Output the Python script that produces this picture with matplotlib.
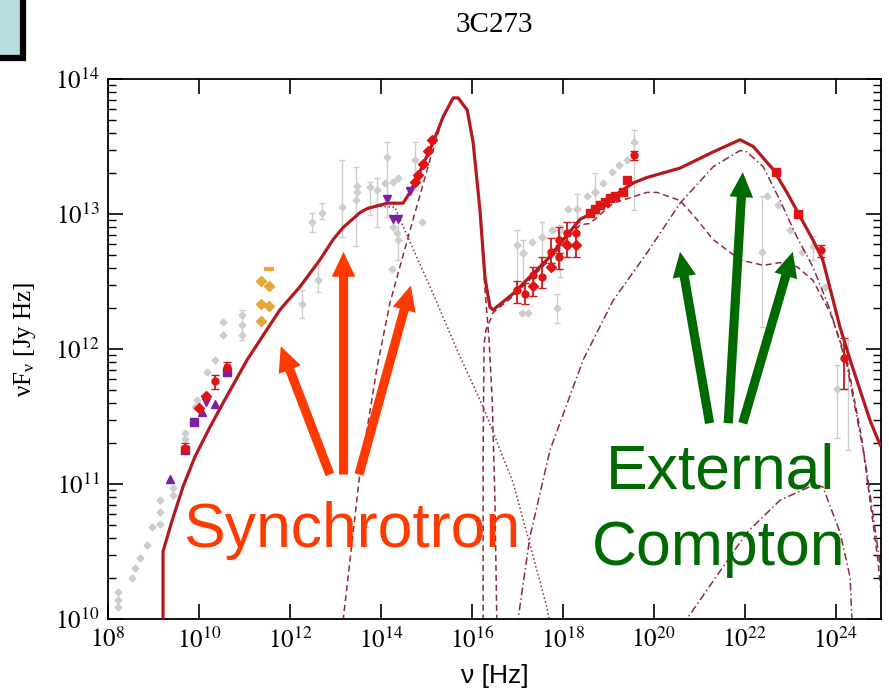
import numpy as np
import matplotlib
matplotlib.use("Agg")
import matplotlib.pyplot as plt
from matplotlib.patches import Rectangle
from matplotlib.ticker import LogLocator, FuncFormatter, NullFormatter

plt.rcParams['font.family'] = 'serif'
plt.rcParams['font.serif'] = ['Liberation Serif', 'DejaVu Serif']
plt.rcParams['mathtext.fontset'] = 'stix'

# ---- model curves (log10 nu, log10 nuFnu) ----
total_lognu = [9.21, 9.21, 9.41, 9.65, 9.91, 10.24, 10.53, 11.06, 11.78, 12.22, 12.66, 12.95,
               13.17, 13.54, 13.70, 14.14, 14.49, 14.64, 14.80, 15.15, 15.37, 15.59, 15.70,
               15.90, 16.03, 16.18, 16.29, 16.40, 16.47, 16.91, 17.65, 18.38, 18.67, 19.11,
               19.55, 19.85, 20.58, 21.31, 21.90, 22.19, 22.63, 22.93, 23.50, 23.72, 24.10,
               24.32, 24.76, 24.98]
total_logf = [9.5, 10.50, 10.73, 10.98, 11.20, 11.42, 11.60, 11.92, 12.29, 12.46, 12.66, 12.81,
              12.90, 13.01, 13.04, 13.08, 13.08, 13.16, 13.27, 13.53, 13.72, 13.86, 13.86,
              13.77, 13.53, 13.03, 12.53, 12.31, 12.29, 12.41, 12.66, 12.96, 13.01, 13.13,
              13.23, 13.27, 13.34, 13.46, 13.55, 13.50, 13.33, 13.16, 12.81, 12.66, 12.16,
              11.92, 11.47, 11.29]

sync_lognu = [13.90, 14.31, 14.42, 15.15, 15.68, 16.25, 16.91, 17.65, 17.75]
sync_logf = [13.06, 13.05, 12.96, 12.41, 11.99, 11.57, 11.01, 10.09, 9.9]

disk_lognu = [13.12, 13.54, 13.92, 13.98, 14.20, 14.42, 14.71, 15.08, 15.37, 15.59, 15.70,
              15.90, 16.03, 16.18, 16.29, 16.38, 16.45, 16.51, 16.55, 16.58]
disk_logf = [9.84, 11.08, 11.87, 11.97, 12.34, 12.61, 12.96, 13.40, 13.72, 13.86, 13.86,
             13.77, 13.53, 13.03, 12.44, 12.07, 11.62, 10.88, 10.0, 9.84]

ssc_lognu = [16.25, 16.25, 16.27, 16.31, 16.40, 16.47, 16.91, 17.65, 18.38, 18.60, 19.11,
             19.85, 20.07, 20.58, 20.95, 21.31, 21.90, 22.41, 22.78, 23.15, 23.50, 23.88,
             24.25, 24.58, 24.93, 25.0]
ssc_logf = [9.84, 11.25, 12.03, 12.14, 12.21, 12.27, 12.39, 12.64, 12.92, 12.93, 13.08,
            13.16, 13.16, 13.10, 12.96, 12.81, 12.66, 12.62, 12.64, 12.61, 12.51, 12.27,
            11.92, 11.33, 10.44, 10.21]

ec_lognu = [16.95, 17.28, 17.72, 18.45, 19.11, 19.85, 20.58, 21.31, 21.90, 22.05, 22.41,
            22.78, 23.15, 23.50, 23.88, 24.25, 24.65, 25.0]
ec_logf = [9.84, 10.61, 11.25, 11.92, 12.36, 12.71, 13.08, 13.35, 13.47, 13.46, 13.35,
           13.10, 12.83, 12.61, 12.29, 11.88, 11.18, 10.36]

ec2_lognu = [20.58, 20.73, 22.05, 22.78, 23.50, 23.72, 24.10, 24.32, 24.36, 24.38]
ec2_logf = [9.84, 10.0, 10.64, 10.88, 10.99, 10.98, 10.64, 10.31, 10.0, 9.84]

# ---- archival data (gray) ----
gray_lognu = [8.22, 8.22, 8.22, 8.53, 8.59, 8.70, 8.86, 8.97, 9.14, 9.14, 9.14, 9.43, 9.43,
              9.69, 9.69, 9.91, 9.96, 10.18, 10.35, 10.53, 10.53, 10.95, 10.95, 13.48, 13.48,
              14.09, 14.27, 14.38, 14.25, 14.91, 14.27, 14.36, 17.13, 17.32, 17.54, 17.76,
              18.12, 18.31, 18.53, 18.71, 18.89, 19.08, 19.24, 19.41, 17.10, 17.24, 22.49,
              22.73, 23.00, 23.26, 23.77]
gray_logf = [10.20, 10.14, 10.09, 10.30, 10.38, 10.45, 10.55, 10.68, 10.88, 10.79, 10.70, 10.92,
             10.97, 11.38, 11.33, 11.57, 11.62, 11.83, 11.92, 12.20, 12.10, 12.25, 12.18, 13.21,
             13.16, 13.23, 13.24, 13.27, 12.59, 12.94, 12.90, 12.86, 12.71, 12.79, 12.83, 12.88,
             13.04, 13.04, 13.13, 13.16, 13.23, 13.31, 13.36, 13.40, 12.27, 12.27, 13.13,
             13.07, 12.88, 12.72, 12.46]

grayerr_lognu = [10.95, 12.27, 12.62, 12.49, 12.71, 13.15, 13.45, 13.76, 13.92, 14.14, 14.75,
                 14.38, 17.00, 17.13, 17.54, 17.94, 18.31, 18.71, 19.57, 17.87, 22.38, 23.50,
                 24.03, 24.27]
grayerr_logf = [12.10, 12.33, 12.51, 12.94, 13.01, 13.05, 13.10, 13.20, 13.18, 13.42, 13.40,
                12.81, 12.77, 12.71, 12.83, 12.88, 13.04, 13.16, 13.53, 12.30, 12.72, 12.76,
                11.70, 11.92]
grayerr_lo = [12.07, 12.23, 12.42, 12.87, 12.96, 12.83, 12.76, 12.99, 12.90, 12.98, 13.18,
              12.66, 12.44, 12.44, 12.64, 12.53, 12.90, 13.00, 13.03, 12.19, 12.16, 12.66,
              11.34, 11.25]
grayerr_hi = [12.29, 12.44, 12.62, 13.01, 13.08, 13.40, 13.35, 13.24, 13.27, 13.53, 13.53,
              12.96, 12.88, 12.81, 12.94, 12.92, 13.15, 13.30, 13.62, 12.41, 13.13, 12.84,
              11.88, 12.07]

# ---- red data ----
rederr_lognu = [17.00, 17.17, 17.35, 17.54, 17.74, 17.92, 17.92, 18.09, 18.29, 19.57, 23.68,
                24.19, 10.35, 10.62, 9.69]
rederr_logf = [12.44, 12.41, 12.55, 12.53, 12.72, 12.81, 12.68, 12.86, 12.86, 13.44, 12.73,
               11.93, 11.76, 11.87, 11.27]
rederr_lo = [12.34, 12.33, 12.39, 12.45, 12.64, 12.71, 12.59, 12.68, 12.68, 13.40, 12.68,
             11.70, 11.70, 11.84, 11.24]
rederr_hi = [12.50, 12.49, 12.61, 12.68, 12.82, 12.90, 12.77, 12.94, 12.94, 13.47, 12.77,
             12.08, 11.81, 11.90, 11.30]

red_lognu = [17.35, 17.74, 18.09, 18.29, 14.75, 14.82, 14.93, 15.04, 15.13, 10.00, 10.16]
red_logf = [12.47, 12.61, 12.77, 12.77, 13.24, 13.29, 13.37, 13.47, 13.55, 11.56, 11.65]

redsq_lognu = [18.60, 18.71, 18.82, 18.93, 19.04, 19.15, 19.33, 19.41, 22.69, 23.17]
redsq_logf = [13.01, 13.04, 13.07, 13.09, 13.12, 13.13, 13.16, 13.25, 13.31, 13.00]

# ---- purple and orange data ----
purup_lognu = [9.36, 10.07, 10.35]
purup_logf = [11.04, 11.53, 11.59]
pursq_lognu = [9.69, 9.89, 10.62]
pursq_logf = [11.25, 11.46, 11.83]
purdn_lognu = [10.16, 14.14, 14.27, 14.38, 14.64]
purdn_logf = [11.61, 13.11, 12.96, 12.96, 13.17]

orange_lognu = [11.36, 11.54, 11.36, 11.54, 11.36]
orange_logf = [12.50, 12.47, 12.33, 12.32, 12.21]
orange_lim_lognu = [11.54]
orange_lim_logf = [12.59]

x_ticks = [8, 10, 12, 14, 16, 18, 20, 22, 24]
y_ticks = [10, 11, 12, 13, 14]


def p(v):
    return 10.0 ** np.asarray(v)


def yerr(f, lo, hi):
    f, lo, hi = p(f), p(lo), p(hi)
    return [f - lo, hi - f]


fig = plt.figure(figsize=(8.89, 6.93), dpi=100)
ax = fig.add_axes([0.1215, 0.1068, 0.8695, 0.7792])

gray = '#cdcdcd'
ax.plot(p(gray_lognu), p(gray_logf), 'D', ms=3.5, color=gray, mec=gray, zorder=1)
ax.errorbar(p(grayerr_lognu), p(grayerr_logf), yerr=yerr(grayerr_logf, grayerr_lo, grayerr_hi),
            fmt='D', ms=3.5, color=gray, ecolor=gray, elinewidth=1, capsize=2.5, zorder=1)

comp = '#8e2a40'
ax.plot(p(sync_lognu), p(sync_logf), ':', color=comp, lw=1.1, zorder=2)
ax.plot(p(disk_lognu), p(disk_logf), '--', color=comp, lw=1.1, dashes=(4, 2.5), zorder=2)
ax.plot(p(ssc_lognu), p(ssc_logf), '--', color=comp, lw=1.1, dashes=(4, 2.5), zorder=2)
ax.plot(p(ec_lognu), p(ec_logf), '-.', color=comp, lw=1.1, dashes=(5, 2, 1, 2), zorder=2)
ax.plot(p(ec2_lognu), p(ec2_logf), '-.', color=comp, lw=1.1, dashes=(5, 2, 1, 2), zorder=2)
ax.plot(p(total_lognu), p(total_logf), '-', color='#b3191e', lw=2.3, zorder=3)

red = '#e01414'
ax.errorbar(p(rederr_lognu), p(rederr_logf), yerr=yerr(rederr_logf, rederr_lo, rederr_hi),
            fmt='o', ms=5, color=red, ecolor='#c81818', elinewidth=1.3, capsize=3, zorder=5)
ax.plot(p(red_lognu), p(red_logf), 'D', ms=5, color=red, zorder=5)
ax.plot(p(redsq_lognu), p(redsq_logf), 's', ms=6, color=red, zorder=5)

purple = '#7b1fa8'
ax.plot(p(purup_lognu), p(purup_logf), '^', ms=5.5, color=purple, zorder=4)
ax.plot(p(pursq_lognu), p(pursq_logf), 's', ms=5.5, color=purple, zorder=4)
ax.plot(p(purdn_lognu), p(purdn_logf), 'v', ms=6, color=purple, zorder=4)

orange = '#e3a836'
ax.plot(p(orange_lognu), p(orange_logf), 'D', ms=5, color=orange, zorder=4)
ax.plot(p(orange_lim_lognu), p(orange_lim_logf), '_', ms=7, mew=3, color=orange, zorder=4)

ax.set_xscale('log')
ax.set_yscale('log')
ax.set_xlim(1e8, 1e25)
ax.set_ylim(1e10, 1e14)

fmt = FuncFormatter(lambda v, pos: r'$10^{%d}$' % round(np.log10(v)))
ax.set_xticks(p(x_ticks))
ax.set_yticks(p(y_ticks))
ax.xaxis.set_major_formatter(fmt)
ax.yaxis.set_major_formatter(fmt)
ax.xaxis.set_minor_locator(plt.NullLocator())
ax.yaxis.set_minor_locator(LogLocator(base=10, subs=np.arange(2, 10)))
ax.yaxis.set_minor_formatter(NullFormatter())
ax.tick_params(which='major', direction='in', length=11, width=1.2, top=True, right=True,
               labelsize=18, pad=6)
ax.tick_params(which='minor', direction='in', length=6, width=1.0, top=True, right=True)
for s in ax.spines.values():
    s.set_linewidth(1.3)

ax.set_xlabel('ν [Hz]', fontsize=19, family='Liberation Sans')
ax.xaxis.set_label_coords(0.5, -0.084)
ax.set_ylabel(r'νF$_{\mathregular{ν}}$ [Jy Hz]', fontsize=18)
ax.yaxis.set_label_coords(-0.09, 0.517)
fig.text(0.556, 0.964, '3C273', ha='center', va='center', fontsize=21)

# annotations
sync_col = '#ff3a00'
ec_col = '#006a00'
arrow = dict(arrowstyle='simple,head_length=0.9,head_width=0.85,tail_width=0.33',
             lw=0, shrinkA=0, shrinkB=0, mutation_scale=20)
for tail, head in [((12.88, 11.07), (11.80, 12.02)), ((13.18, 11.07), (13.18, 12.72)),
                   ((13.52, 11.07), (14.66, 12.47))]:
    ax.annotate('', xy=p(head), xytext=p(tail), arrowprops=dict(arrow, color=sync_col), zorder=6)
for tail, head in [((21.23, 11.45), (20.58, 12.72)), ((21.64, 11.45), (21.96, 13.31)),
                   ((21.96, 11.45), (23.06, 12.72))]:
    ax.annotate('', xy=p(head), xytext=p(tail), arrowprops=dict(arrow, color=ec_col), zorder=6)

ax.text(p(13.35), p(10.53), 'Synchrotron', color=sync_col, fontsize=45, family='Liberation Sans',
        ha='center', va='baseline', zorder=7)
ax.text(p(21.46), p(10.97), 'External', color=ec_col, fontsize=45, family='Liberation Sans',
        ha='center', va='baseline', zorder=7)
ax.text(p(21.42), p(10.40), 'Compton', color=ec_col, fontsize=45, family='Liberation Sans',
        ha='center', va='baseline', zorder=7)

fig.patches.append(Rectangle((-0.05, 0.9163), 0.0759, 0.2, transform=fig.transFigure,
                             facecolor='#b8dee2', edgecolor='black', lw=4.5, clip_on=False))

fig.savefig('out.png', dpi=100)
